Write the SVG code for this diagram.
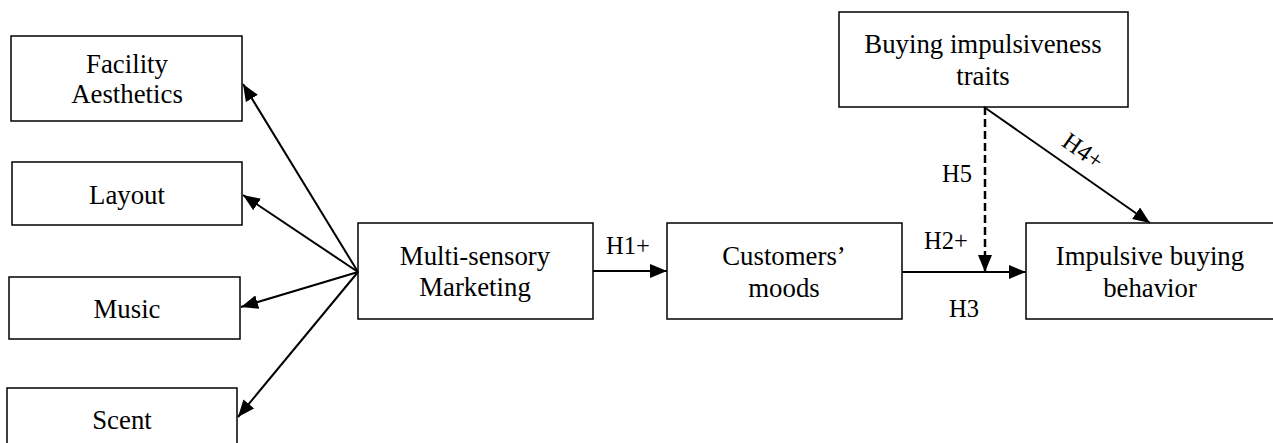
<svg xmlns="http://www.w3.org/2000/svg" width="1273" height="443" viewBox="0 0 1273 443">
<style>
.box{fill:#fff;stroke:#000;stroke-width:1.5}
.t{font-family:"Liberation Serif","Times New Roman",serif;font-size:26.8px;fill:#000;text-anchor:middle}
.lb{font-family:"Liberation Serif","Times New Roman",serif;font-size:24.5px;fill:#000;text-anchor:middle}
.c{stroke:#000;stroke-width:2;fill:none}
.d{stroke-dasharray:8,4;stroke-width:2.5}
</style>
<defs>
<marker id="ah" viewBox="0 0 17 14" refX="17" refY="7" markerWidth="17" markerHeight="14" markerUnits="userSpaceOnUse" orient="auto">
<path d="M0,0 L17,7 L0,14 Z" fill="#000"/>
</marker>
</defs>
<rect width="1273" height="443" fill="#fff"/>
<g id="facility"><rect class="box" x="11" y="36" width="231" height="85"/><text class="t" x="127" y="73">Facility</text><text class="t" x="127" y="103">Aesthetics</text></g>
<g id="layout"><rect class="box" x="12" y="162" width="230" height="63"/><text class="t" x="127" y="204">Layout</text></g>
<g id="music"><rect class="box" x="9" y="277" width="231" height="62"/><text class="t" x="127" y="318">Music</text></g>
<g id="scent"><rect class="box" x="7" y="388" width="230" height="70"/><text class="t" x="122" y="429">Scent</text></g>
<g id="msm"><rect class="box" x="358" y="223" width="235" height="96"/><text class="t" x="475" y="265">Multi-sensory</text><text class="t" x="475" y="296">Marketing</text></g>
<g id="moods"><rect class="box" x="667" y="223" width="235" height="96"/><text class="t" x="784" y="265">Customers’</text><text class="t" x="784" y="297">moods</text></g>
<g id="ibb"><rect class="box" x="1026" y="223" width="248" height="96"/><text class="t" x="1150" y="265">Impulsive buying</text><text class="t" x="1150" y="297">behavior</text></g>
<g id="bit"><rect class="box" x="839" y="12" width="289" height="95"/><text class="t" x="983" y="53">Buying impulsiveness</text><text class="t" x="983" y="85">traits</text></g>
<g id="connectors">
<line class="c" x1="358" y1="272" x2="243" y2="84" marker-end="url(#ah)"/>
<line class="c" x1="358" y1="272" x2="243" y2="195" marker-end="url(#ah)"/>
<line class="c" x1="358" y1="272" x2="241" y2="307" marker-end="url(#ah)"/>
<line class="c" x1="358" y1="272" x2="238" y2="417" marker-end="url(#ah)"/>
<line class="c" x1="593" y1="271" x2="667" y2="271" marker-end="url(#ah)"/>
<line class="c" x1="902" y1="272" x2="1026" y2="272" marker-end="url(#ah)"/>
<line class="c d" x1="985" y1="107" x2="985" y2="272" marker-end="url(#ah)"/>
<line class="c" x1="984" y1="107" x2="1150" y2="223" marker-end="url(#ah)"/>
<text class="lb" x="628" y="254">H1+</text>
<text class="lb" x="946" y="249">H2+</text>
<text class="lb" x="964" y="317">H3</text>
<text class="lb" x="957" y="182">H5</text>
<text class="lb" transform="translate(1083,151) rotate(35)" x="0" y="8">H4+</text>
</g>
</svg>
